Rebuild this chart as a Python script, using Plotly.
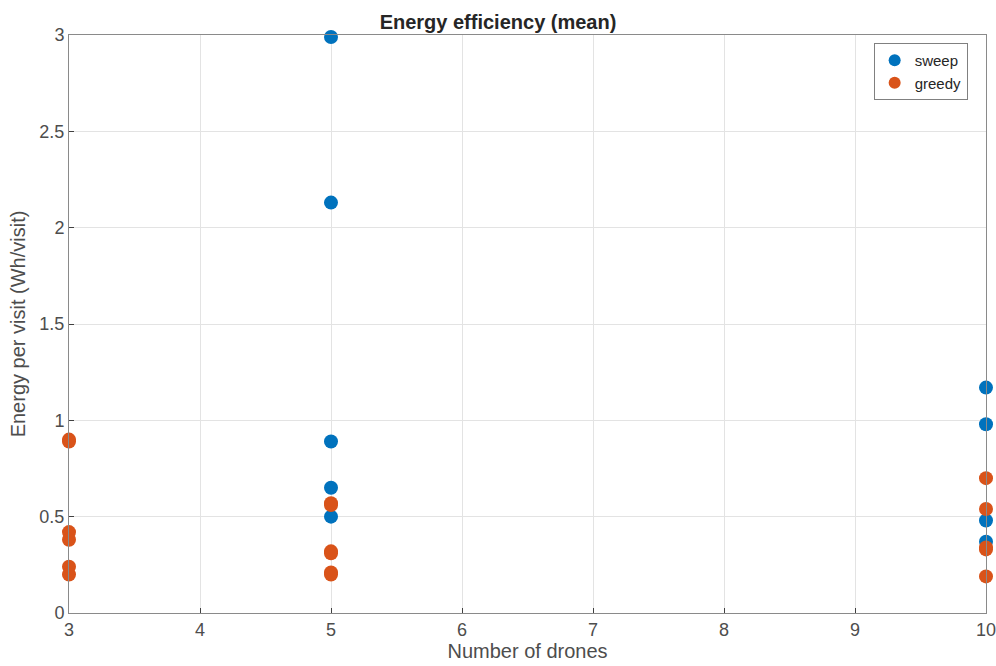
import plotly.graph_objects as go

sweep_x = [5, 5, 5, 5, 5, 10, 10, 10, 10]
sweep_y = [2.99, 2.13, 0.89, 0.65, 0.50, 1.17, 0.98, 0.48, 0.37]

greedy_x = [3, 3, 3, 3, 3, 3, 5, 5, 5, 5, 5, 5, 10, 10, 10, 10, 10]
greedy_y = [0.90, 0.89, 0.42, 0.38, 0.24, 0.20, 0.57, 0.56, 0.32, 0.31, 0.21, 0.20, 0.70, 0.54, 0.34, 0.33, 0.19]

x_ticks = [3, 4, 5, 6, 7, 8, 9, 10]
y_ticks = [0, 0.5, 1, 1.5, 2, 2.5, 3]
y_tick_labels = ["0", "0.5", "1", "1.5", "2", "2.5", "3"]

fig = go.Figure()
fig.add_trace(go.Scatter(x=sweep_x, y=sweep_y, mode="markers", name="sweep",
                         marker=dict(color="#0072BD", size=14), cliponaxis=False))
fig.add_trace(go.Scatter(x=greedy_x, y=greedy_y, mode="markers", name="greedy",
                         marker=dict(color="#D95319", size=14), cliponaxis=False))

axis_common = dict(showline=True, linecolor="#8a8a8a", linewidth=1, mirror=True,
                   showgrid=True, gridcolor="#e3e3e3", gridwidth=1,
                   ticks="inside", ticklen=5, tickcolor="#404040", zeroline=False,
                   automargin=False, ticklabeloverflow="allow",
                   tickfont=dict(size=18, color="#4d4d4d"))

fig.update_layout(
    width=996, height=666,
    margin=dict(l=69, r=10, t=35, b=53),
    paper_bgcolor="white", plot_bgcolor="white",
    font=dict(family="Liberation Sans, Arial, sans-serif", color="#262626"),
    title=dict(text="<b>Energy efficiency (mean)</b>", x=0.5, xanchor="center",
               y=0.978, yanchor="top", font=dict(size=20, color="#262626")),
    xaxis=dict(range=[3, 10], tickvals=x_ticks,
               title=dict(text="Number of drones", font=dict(size=20, color="#4d4d4d"), standoff=2),
               **axis_common),
    yaxis=dict(range=[0, 3], tickvals=y_ticks, ticktext=y_tick_labels,
               title=dict(text="Energy per visit (Wh/visit)", font=dict(size=20, color="#4d4d4d"), standoff=8),
               **axis_common),
    legend=dict(x=0.980, y=0.986, xanchor="right", yanchor="top",
                bordercolor="#808080", borderwidth=1, bgcolor="white",
                font=dict(size=15, color="#262626"), itemsizing="constant",
                tracegroupgap=0, itemwidth=30),
    showlegend=True,
)

fig.write_html("out.html", config={"displayModeBar": False},
               post_script="document.body.style.margin='0';")
